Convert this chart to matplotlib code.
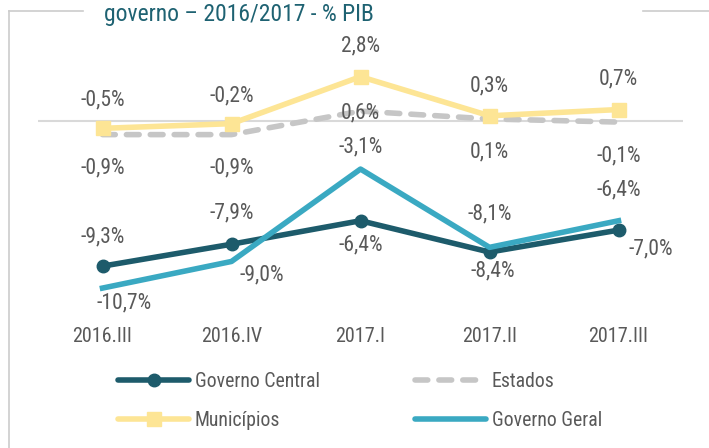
import matplotlib
matplotlib.use("Agg")
import matplotlib.pyplot as plt
from matplotlib import font_manager
from matplotlib.lines import Line2D

names = {f.name for f in font_manager.fontManager.ttflist}
FAM = [f for f in ["Roboto Condensed", "Liberation Sans Narrow", "Liberation Sans", "DejaVu Sans"] if f in names]
plt.rcParams["font.family"] = FAM

categories = ["2016.III", "2016.IV", "2017.I", "2017.II", "2017.III"]
central = [-9.3, -7.9, -6.4, -8.4, -7.0]
estados = [-0.9, -0.9, 0.6, 0.1, -0.1]
municipios = [-0.5, -0.2, 2.8, 0.3, 0.7]
geral = [-10.7, -9.0, -3.1, -8.1, -6.4]
title = "governo – 2016/2017 - % PIB"

W, H = 709, 448
fig = plt.figure(figsize=(W / 100, H / 100), dpi=100)
# axes: x from 38 to 683 px, y from 30 to 310 px
ax = fig.add_axes([38 / W, 1 - 310 / H, 645 / W, 280 / H])
ax.set_xlim(-0.5, 4.5)
ax.set_ylim(-12.10, 5.78)
for s in ax.spines.values():
    s.set_visible(False)
ax.set_yticks([])
ax.set_xticks(range(len(categories)))
ax.set_xticklabels(categories)
ax.tick_params(axis="x", length=0, pad=12, labelsize=14.5, labelcolor="#595959")
ax.axhline(0, color="#d9d9d9", lw=1.5, zorder=1)

x = list(range(len(categories)))
c_central = "#1d5b6b"
c_geral = "#3aa9c2"
c_mun = "#fde595"
c_est = "#c6c6c6"
EST_DASH = (0, (2.3, 2.0))

ax.plot(x, estados, color=c_est, lw=4, ls=EST_DASH, dash_capstyle="round", zorder=2)
ax.plot(x, municipios, color=c_mun, lw=4, marker="s", ms=10, zorder=3)
ax.plot(x, central, color=c_central, lw=4, marker="o", ms=9, zorder=4)
ax.plot(x, geral, color=c_geral, lw=4, zorder=5)

def fmt(v):
    return f"{v:.1f}%".replace(".", ",")

lab_kw = dict(textcoords="offset pixels", ha="center", va="center", fontsize=15.5, color="#595959", zorder=6)
mun_off = [(0, 28), (0, 28), (0, 31), (0, 30), (0, 31)]
est_off = [(0, -33), (0, -33), (0, -2), (0, -33), (0, -34)]
cen_off = [(0, 29), (0, 31), (0, -24), (3, -19), (32, -19)]
ger_off = [(22, -15), (30, -13), (0, 22), (0, 33), (0, 31)]
for series, offs in [(municipios, mun_off), (estados, est_off), (central, cen_off), (geral, ger_off)]:
    for xi, v, o in zip(x, series, offs):
        ax.annotate(fmt(v), (xi, v), xytext=o, **lab_kw)

# legend
handles = [
    Line2D([], [], color=c_central, lw=4, marker="o", ms=9, solid_capstyle="round"),
    Line2D([], [], color=c_mun, lw=4, marker="s", ms=10, solid_capstyle="round"),
    Line2D([], [], color=c_est, lw=4, ls=EST_DASH, dash_capstyle="round"),
    Line2D([], [], color=c_geral, lw=4, solid_capstyle="round"),
]
labels = ["Governo Central", "Municípios", "Estados", "Governo Geral"]
leg = fig.legend(handles, labels, ncol=2, loc="upper left", bbox_to_anchor=(118 / W, 1 - 372 / H),
                 frameon=False, fontsize=14.2, handlelength=3.6, handletextpad=0.3,
                 columnspacing=4.8, labelspacing=1.0, borderaxespad=0, borderpad=0)
for t in leg.get_texts():
    t.set_color("#595959")

# title and frame lines
fig.text(104 / W, 1 - 21 / H, title, ha="left", va="baseline", fontsize=17,
         color="#1e6272")
fc = "#cccccc"
fig.add_artist(Line2D([8.5 / W, 8.5 / W], [0, 1 - 11 / H], color=fc, lw=1.2))
fig.add_artist(Line2D([8.5 / W, 83 / W], [1 - 11 / H, 1 - 11 / H], color=fc, lw=1.2))
fig.add_artist(Line2D([643 / W, 1], [1 - 11 / H, 1 - 11 / H], color=fc, lw=1.2))

fig.savefig("out.png", dpi=100)
